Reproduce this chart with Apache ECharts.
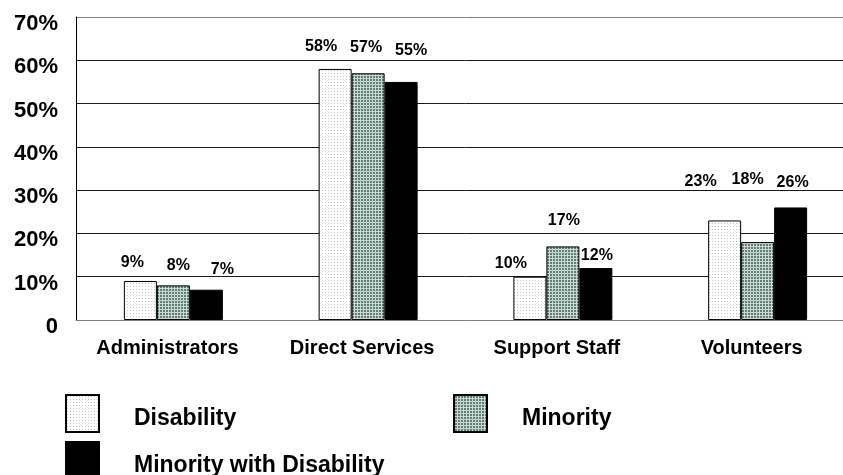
<!DOCTYPE html>
<html>
<head>
<meta charset="utf-8">
<script src="https://cdn.jsdelivr.net/npm/echarts@6/dist/echarts.min.js"></script>
<style>html,body{margin:0;padding:0;background:#fff;overflow:hidden;}#c{width:855px;height:475px;}</style>
</head>
<body>
<div id="c"></div>
<script>
// ---- data ----
const categories = ['Administrators', 'Direct Services', 'Support Staff', 'Volunteers'];
const disability = [9, 58, 10, 23];
const minority = [8, 57, 17, 18];
const minorityWithDisability = [7, 55, 12, 26];
const seriesNames = ['Disability', 'Minority', 'Minority with Disability'];
const yTicks = [0, 10, 20, 30, 40, 50, 60, 70];

// ---- label nudges (style only: [dx, dy] per category) ----
const nudgeDis = [[-8, -5], [-14, -9], [-19, 0], [-24, -26]];
const nudgeMin = [[5, -7], [-2, -13], [1, -13], [-10, -49]];
const nudgeMwd = [[16, -7], [10, -18], [1, 1], [2, -12]];

function makePattern(kind) {
  const c = document.createElement('canvas');
  c.width = 3; c.height = 3;
  const g = c.getContext('2d');
  if (kind === 'dots') {
    g.fillStyle = '#ffffff'; g.fillRect(0, 0, 3, 3);
    g.fillStyle = '#c4c4c4'; g.fillRect(1, 1, 1, 1);
  } else {
    g.fillStyle = '#5f7f76'; g.fillRect(0, 0, 3, 3);
    g.fillStyle = '#c9d8d2'; g.fillRect(0, 0, 3, 1); g.fillRect(0, 0, 1, 3);
  }
  return { image: c, repeat: 'repeat' };
}

const FONT = "'Liberation Sans', Arial, sans-serif";

function mkData(vals, nudges) {
  return vals.map((v, i) => ({ value: v, label: { offset: nudges[i] } }));
}

function mkSeries(name, vals, nudges, color) {
  return {
    name: name,
    type: 'bar',
    barWidth: 33,
    barGap: '0%',
    data: mkData(vals, nudges),
    itemStyle: { color: color, borderColor: '#000', borderWidth: 1 },
    label: {
      show: true, position: 'top', distance: 5,
      formatter: '{c}%', color: '#000',
      fontFamily: FONT, fontWeight: 'bold', fontSize: 16
    },
    emphasis: { disabled: true }
  };
}

const chart = echarts.init(document.getElementById('c'), null, { renderer: 'canvas' });
const legendText = {
  fontFamily: FONT, fontWeight: 'bold', fontSize: 23, color: '#000', padding: [0, 0, 0, 30],
  rich: { t: { fontFamily: FONT, fontWeight: 'bold', fontSize: 23, color: '#000', padding: [10, 0, 0, 0] } }
};
const legendBase = {
  orient: 'horizontal', itemWidth: 33, itemHeight: 37, icon: 'rect', selectedMode: false,
  textStyle: legendText, formatter: n => '{t|' + n + '}'
};

chart.setOption({
  animation: false,
  backgroundColor: '#fff',
  grid: { left: 76, top: 17, right: 0, bottom: 155, containLabel: false },
  xAxis: {
    type: 'category',
    data: categories,
    axisLine: { show: true, lineStyle: { color: '#808080', width: 1 } },
    axisTick: { show: false },
    axisLabel: { color: '#000', fontFamily: FONT, fontWeight: 'bold', fontSize: 20, margin: 18, padding: [0, 12, 0, 0] }
  },
  yAxis: {
    type: 'value',
    min: yTicks[0], max: yTicks[yTicks.length - 1], interval: 10,
    axisLine: { show: true, lineStyle: { color: '#000', width: 1 } },
    axisTick: { show: false },
    splitLine: { show: true, lineStyle: { color: ['#808080', '#1a1a1a', '#1a1a1a', '#1a1a1a', '#1a1a1a', '#1a1a1a', '#1a1a1a', '#808080'], width: 1 } },
    axisLabel: {
      color: '#000', fontFamily: FONT, fontWeight: 'bold', fontSize: 22, margin: 18,
      verticalAlign: 'top', lineHeight: 14,
      formatter: v => v === 0 ? '0' : v + '%'
    }
  },
  legend: [
    Object.assign({ left: 60, top: 389, data: [seriesNames[0]] }, legendBase),
    Object.assign({ left: 448, top: 389, data: [seriesNames[1]] }, legendBase),
    Object.assign({ left: 60, top: 436, data: [seriesNames[2]] }, legendBase)
  ],
  series: [
    mkSeries(seriesNames[0], disability, nudgeDis, makePattern('dots')),
    mkSeries(seriesNames[1], minority, nudgeMin, makePattern('grid')),
    mkSeries(seriesNames[2], minorityWithDisability, nudgeMwd, '#000')
  ]
});
</script>
</body>
</html>
